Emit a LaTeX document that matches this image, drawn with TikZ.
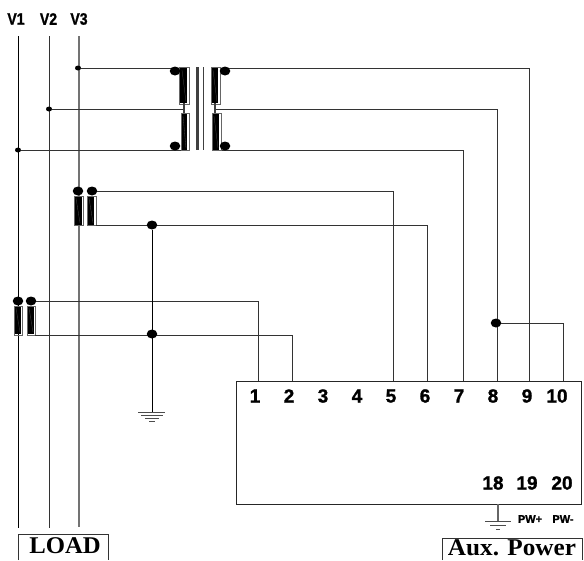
\documentclass[tikz,border=0pt]{standalone}
\usepackage{fontspec}
\setmainfont{Liberation Sans}
\newfontfamily\heavyfont{Liberation Sans}[UprightFont=* Bold,FakeBold=1.3]
\newfontfamily\serifbold{Liberation Serif}[UprightFont=* Bold]
\usetikzlibrary{shapes.geometric}
\begin{document}
\begin{tikzpicture}[x=1pt,y=-1pt,
    wire/.style={line width=1pt,color=black!80},
    wirev/.style={line width=1.6pt,color=black!55},
    tapdot/.style={ellipse,fill=black,inner sep=0pt,minimum width=6pt,minimum height=5pt},
    joint/.style={ellipse,fill=black,inner sep=0pt,minimum width=10.5pt,minimum height=9pt},
    coilline/.style={line width=0.7pt,color=black!60},
    coilslash/.style={line width=0.3pt,color=black!70},
    core/.style={line width=2.8pt,color=black!75},
    earth/.style={line width=0.8pt,color=black!70},
    pin/.style={font=\heavyfont\fontsize{19}{19}\selectfont,inner sep=0pt},
    phase/.style={font=\heavyfont\fontsize{16.5}{16.5}\selectfont,inner sep=0pt,xscale=0.85},
    pwlabel/.style={font=\heavyfont\fontsize{11}{11}\selectfont,inner sep=0pt},
    tag/.style={font=\serifbold\fontsize{24}{24}\selectfont,inner sep=0pt},
    tagline/.style={draw=black!80,line width=1pt}]
    \useasboundingbox (0,0) rectangle (584,560);

    % phases
    \node[phase] (v1) at (16,19) {V1};
    \node[phase] (v2) at (48.5,19) {V2};
    \node[phase] (v3) at (79,19) {V3};
    \coordinate (v1top) at (18,36);
    \coordinate (v1end) at (18,528);
    \coordinate (v2top) at (49,36);
    \coordinate (v2end) at (49,528);
    \coordinate (v3top) at (79,36);
    \coordinate (v3end) at (79,527);
    \draw[line width=1pt] (v1top) -- (v1end);
    \draw[line width=1pt,color=black!80] (v2top) -- (v2end);
    \draw[wirev] (v3top) -- (v3end);

    % meter box
    \coordinate (boxa) at (236,381);
    \coordinate (boxb) at (581,504);
    \draw[line width=1pt,color=black!85] (boxa) rectangle (boxb);
    \node[pin] (p1) at (255,396) {1};
    \node[pin] (p2) at (289,396) {2};
    \node[pin] (p3) at (323,396) {3};
    \node[pin] (p4) at (357,396) {4};
    \node[pin] (p5) at (391,396) {5};
    \node[pin] (p6) at (425,396) {6};
    \node[pin] (p7) at (459,396) {7};
    \node[pin] (p8) at (493,396) {8};
    \node[pin] (p9) at (527,396) {9};
    \node[pin] (p10) at (557,396) {10};
    \node[pin] (p18) at (493,483) {18};
    \node[pin] (p19) at (527,483) {19};
    \node[pin] (p20) at (562,483) {20};

    % voltage transformer
    \node[tapdot] (t3) at (78,68) {};
    \node[tapdot] (t2) at (49,109) {};
    \node[tapdot] (t1) at (18,150) {};
    \coordinate (in1) at (258,381);
    \coordinate (in2) at (292,381);
    \coordinate (in5) at (393,381);
    \coordinate (in6) at (427,381);
    \coordinate (in7) at (463,381);
    \coordinate (in8) at (497,381);
    \coordinate (in9) at (529,381);
    \coordinate (in10) at (563,381);
    \coordinate (la) at (179,68);
    \coordinate (lb) at (184,109);
    \coordinate (lc) at (189,150);
    \coordinate (ra) at (220,68);
    \coordinate (rb) at (215,109);
    \coordinate (rc) at (212,150);
    \draw[wire] (t3) -- (la);
    \draw[wire] (t2) -- (lb);
    \draw[wire] (t1) -- (lc);
    \draw[wire] (ra) -| (in9);
    \draw[wire] (rb) -| (in8);
    \draw[wire] (rc) -| (in7);

    \fill (179,67) rectangle (187,103);
    \fill (181,113) rectangle (187,150);
    \fill (211,67) rectangle (218,103);
    \fill (212,113) rectangle (219,150);
    \draw[coilline] (179,67) rectangle (189,104);
    \draw[coilline] (181,113) rectangle (189,150);
    \draw[coilline] (211,67) rectangle (220,104);
    \draw[coilline] (212,113) rectangle (221,150);
    \draw[coilslash] (182,70) -- (186,102);
    \draw[coilslash] (183,116) -- (186,148);
    \draw[coilslash] (213,70) -- (217,102);
    \draw[coilslash] (214,116) -- (218,148);
    \draw[core] (184,103) -- (184,113);
    \draw[core] (215,103) -- (215,113);
    \draw[core] (197.5,67) -- (197.5,150);
    \draw[line width=1.8pt,color=black!75] (203.5,67) -- (203.5,150);
    \node[joint] (vta) at (175,71) {};
    \node[joint] (vtb) at (175,146) {};
    \node[joint] (vtc) at (225,71) {};
    \node[joint] (vtd) at (225,146) {};

    % current transformer on V3
    \fill (74,196) rectangle (81.5,225);
    \fill (87,196) rectangle (94,225);
    \draw[coilline] (74,196) rectangle (83,225);
    \draw[coilline] (87,196) rectangle (96,225);
    \draw[coilslash] (76,198) -- (80,223);
    \draw[coilslash] (89,198) -- (93,223);
    \node[joint] (ct3a) at (78,191) {};
    \node[joint] (ct3b) at (92,191) {};
    \coordinate (ct3c) at (96,225);
    \draw[wire] (ct3b) -| (in5);
    \draw[wire] (ct3c) -| (in6);

    % current transformer on V1
    \fill (14,306) rectangle (21,334);
    \fill (27,306) rectangle (33.5,334);
    \draw[coilline] (14,306) rectangle (22,335);
    \draw[coilline] (27,306) rectangle (35,335);
    \draw[coilslash] (16,308) -- (20,332);
    \draw[coilslash] (29,308) -- (33,332);
    \node[joint] (ct1a) at (18,301) {};
    \node[joint] (ct1b) at (31,301) {};
    \coordinate (ct1c) at (35,335);
    \draw[wire] (ct1b) -| (in1);
    \draw[wire] (ct1c) -| (in2);

    % earth of the current transformers
    \node[joint] (ja) at (152,225) {};
    \node[joint] (jb) at (152,334) {};
    \coordinate (gnda) at (152,412);
    \draw[line width=1pt] (ja) -- (gnda);
    \draw[earth] (138,412) -- (165,412);
    \draw[earth] (141,415.5) -- (163,415.5);
    \draw[earth] (145,418.5) -- (159,418.5);
    \draw[earth] (149,421.5) -- (155,421.5);

    % link from 8 to 10
    \node[joint] (jc) at (496,323) {};
    \draw[wire] (jc) -| (in10);

    % earth and auxiliary power
    \coordinate (gndb) at (498,504);
    \coordinate (gndc) at (498,521);
    \draw[line width=1.2pt,color=black!60] (gndb) -- (gndc);
    \draw[earth] (485,521) -- (511,521);
    \draw[earth] (490,525) -- (506,525);
    \draw[earth] (496,529) -- (500,529);
    \node[pwlabel] (pwp) at (530,519) {PW+};
    \node[pwlabel] (pwm) at (563,519) {PW-};

    % tags, their lower edge is off the page
    \node[tag] (load) at (65,546) {\scalebox{1.03}[1]{LOAD}};
    \node[tag] (aux) at (512,548) {\scalebox{1.05}[1]{Aux. Power}};
    \coordinate (loada) at (18,560);
    \coordinate (loadb) at (108,534);
    \coordinate (auxa) at (442,560);
    \coordinate (auxb) at (582,538);
    \draw[tagline] (loada) |- (loadb) -- (108,560);
    \draw[tagline] (auxa) |- (auxb) -- (582,560);
\end{tikzpicture}
\end{document}
